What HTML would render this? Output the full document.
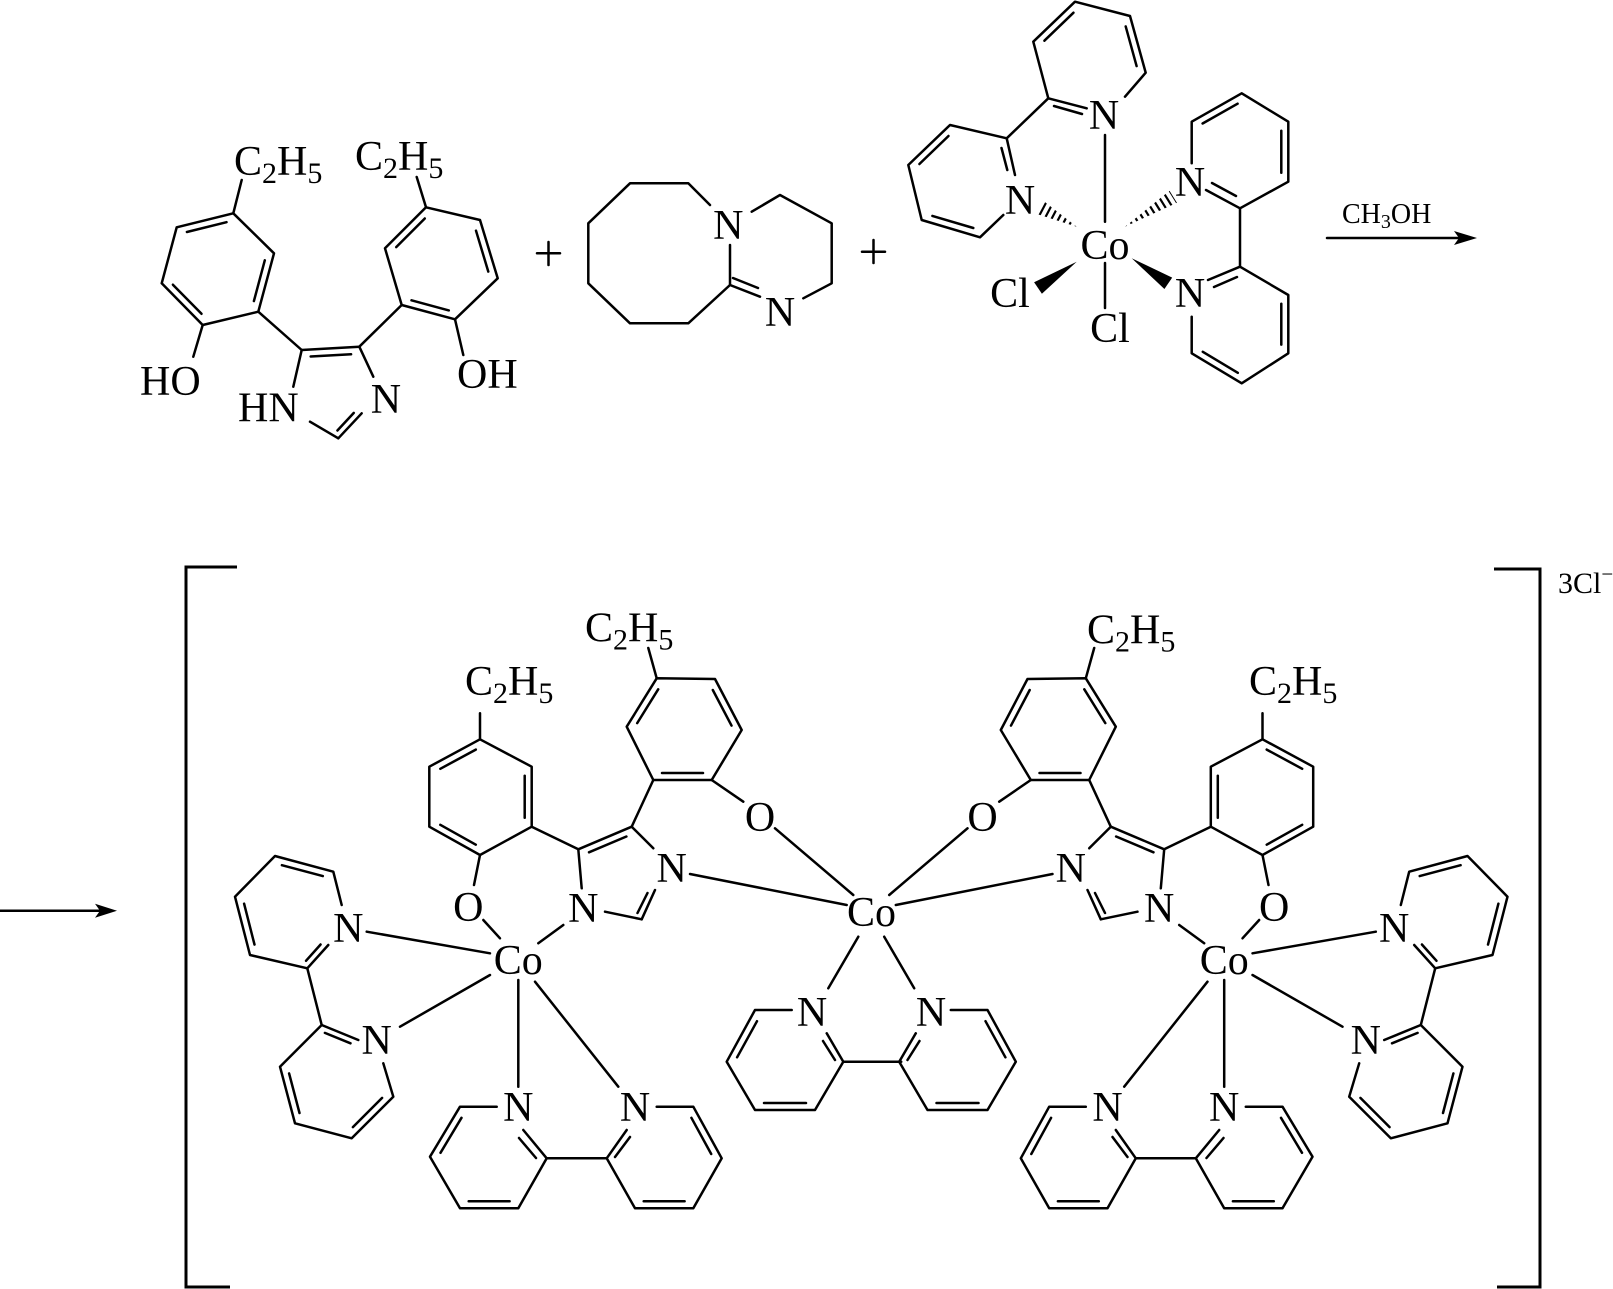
<!DOCTYPE html>
<html><head><meta charset="utf-8"><style>
html,body{margin:0;padding:0;background:#fff;}
svg{display:block;}
text{font-family:"Liberation Serif",serif;fill:#000;}
</style></head><body>
<svg width="1613" height="1289" viewBox="0 0 1613 1289" xmlns="http://www.w3.org/2000/svg">
<defs>
<clipPath id="w1"><polygon points="1076.7,226.7 1045,202.1 1038.4,214.5"/></clipPath>
<clipPath id="w2"><polygon points="1125,226.7 1177,202.7 1169.6,190.7"/></clipPath>
</defs>
<g stroke="#000" stroke-width="2.5" fill="none" stroke-linecap="round" stroke-linejoin="round">
<polyline points="233.3,213.3 274,253.3 258.3,311.7 202.7,325 161.7,283.3 176.7,227.3 233.3,213.3"/>
<line x1="186.9" y1="232" x2="226.5" y2="222.2"/><line x1="264.8" y1="260.3" x2="253.9" y2="301.1"/><line x1="201.5" y1="313.8" x2="172.9" y2="284.7"/>
<line x1="233.3" y1="213.3" x2="241.7" y2="180"/>
<line x1="202.7" y1="325" x2="193.3" y2="356.7"/>
<line x1="258.3" y1="311.7" x2="301.7" y2="350"/>
<line x1="301.7" y1="350" x2="359.3" y2="346.7"/><line x1="310.7" y1="356.5" x2="351.1" y2="354.2"/>
<line x1="359.3" y1="346.7" x2="373.3" y2="376.7"/>
<line x1="301.7" y1="350" x2="293.3" y2="386.7"/>
<line x1="310" y1="421.7" x2="338.3" y2="438.3"/>
<line x1="338.3" y1="438.3" x2="361.7" y2="413.3"/><line x1="337.4" y1="430.5" x2="353.8" y2="412.9"/>
<line x1="359.3" y1="346.7" x2="401.7" y2="305"/>
<polyline points="401.7,305 455,319.3 497.7,278.3 480,220 426,207.3 385,248.3 401.7,305"/>
<line x1="396.2" y1="247.1" x2="424.8" y2="218.5"/><line x1="476" y1="230.7" x2="488.3" y2="271.6"/><line x1="411.5" y1="300.3" x2="448.8" y2="310.4"/>
<line x1="426" y1="207.3" x2="416.7" y2="177"/>
<line x1="455" y1="319.3" x2="463.3" y2="355"/>
<line x1="537" y1="253.3" x2="560" y2="253.3"/><line x1="548.5" y1="242" x2="548.5" y2="265"/>
<line x1="862" y1="251.7" x2="885" y2="251.7"/><line x1="873.5" y1="240" x2="873.5" y2="263"/>
<polyline points="710,205 688.3,183.3 630,183.3 588.3,223.3 588.3,283.3 630,323.3 688.3,323.3 730,285 730,245"/>
<line x1="730" y1="285" x2="760" y2="296.7"/><line x1="733" y1="278" x2="758" y2="288"/>
<polyline points="803.3,298.3 831.7,283.3 831.7,223.3 780,195 751.7,211.7"/>
<polyline points="1125,96.7 1145.7,72.7 1130,16 1075,1.7 1033.3,41.7 1048.3,98.3 1086.7,108.3"/>
<line x1="1044.4" y1="40.7" x2="1073.5" y2="12.7"/><line x1="1125.7" y1="26.4" x2="1136.6" y2="66.1"/><line x1="1054" y1="106" x2="1082" y2="114"/>
<line x1="1048.3" y1="98.3" x2="1006.7" y2="138.3"/>
<polyline points="1015,175 1006.7,138.3 950,125 908.3,165 921.7,220 980,237.3 1003.3,215"/>
<line x1="948.5" y1="136" x2="919.4" y2="164"/><line x1="932.4" y1="215.9" x2="973.3" y2="228"/><line x1="1001.5" y1="148" x2="1007.3" y2="170"/>
<line x1="1105" y1="135" x2="1105" y2="221.7"/>
<line x1="1105" y1="263" x2="1105" y2="308"/>
<polyline points="1191.7,163.3 1191.7,121.7 1241.7,93.3 1288.3,121.7 1288.3,181.7 1240,208.3 1206,190"/>
<line x1="1202.6" y1="123.5" x2="1237.6" y2="103.7"/><line x1="1281.3" y1="130.7" x2="1281.3" y2="172.7"/><line x1="1212" y1="183" x2="1236" y2="196"/>
<line x1="1240" y1="208.3" x2="1240" y2="266.7"/>
<polyline points="1208,280 1240,266.7 1288.3,295 1288.3,353.3 1241.7,383.3 1191.7,353.3 1191.7,316.7"/>
<line x1="1281.3" y1="303.7" x2="1281.3" y2="344.6"/><line x1="1237.8" y1="372.8" x2="1202.8" y2="351.8"/><line x1="1214" y1="287" x2="1237" y2="277"/>
<line x1="1327" y1="238" x2="1462" y2="238"/>
<line x1="0" y1="910.7" x2="102" y2="910.7"/>
<polyline points="237,567 186,567 186,1287 230,1287" stroke-width="3" stroke-linecap="butt" stroke-linejoin="miter"/>
<polyline points="1494,569 1540,569 1540,1287 1497,1287" stroke-width="3" stroke-linecap="butt" stroke-linejoin="miter"/>
<line x1="843.3" y1="1061.7" x2="901.2" y2="1061.7"/>
<g id="half">
<polyline points="480,739.3 531.7,766.7 531.7,826.7 480,855 429.3,826.7 429.3,766.7 480,739.3"/>
<line x1="440.3" y1="768.8" x2="475.8" y2="749.6"/><line x1="524.7" y1="775.7" x2="524.7" y2="817.7"/><line x1="440.3" y1="824.8" x2="475.8" y2="844.7"/>
<line x1="480" y1="739.3" x2="480" y2="713.3"/>
<line x1="480" y1="855" x2="474" y2="885"/>
<line x1="531.7" y1="826.7" x2="578.3" y2="849.3"/>
<line x1="578.3" y1="849.3" x2="631.7" y2="826.7"/><line x1="589" y1="852.3" x2="626.4" y2="836.5"/>
<line x1="578.3" y1="849.3" x2="581.7" y2="888.3"/>
<line x1="605" y1="911.7" x2="641.7" y2="919.3"/>
<line x1="641.7" y1="919.3" x2="655" y2="890"/><line x1="637.5" y1="913" x2="647.5" y2="893"/>
<line x1="631.7" y1="826.7" x2="653.3" y2="848.3"/>
<line x1="631.7" y1="826.7" x2="653.3" y2="780"/>
<polyline points="656.7,678.3 715,679 741.7,730 711.7,780 653.3,780 626.7,726.7 656.7,678.3"/>
<line x1="637.2" y1="723.1" x2="658.2" y2="689.3"/><line x1="712.8" y1="690" x2="731.5" y2="725.6"/><line x1="662" y1="773" x2="703" y2="773"/>
<line x1="656.7" y1="678.3" x2="648.3" y2="648"/>
<line x1="711.7" y1="780" x2="743.3" y2="801.7"/>
<line x1="775" y1="828.3" x2="853.3" y2="895"/>
<line x1="690" y1="874" x2="846.7" y2="905"/>
<line x1="500" y1="938.3" x2="483.3" y2="920"/>
<line x1="538.3" y1="943.3" x2="563.3" y2="925"/>
<line x1="490" y1="953.3" x2="366.7" y2="931.7"/>
<line x1="490" y1="975" x2="400" y2="1026.7"/>
<line x1="518.3" y1="980" x2="518.3" y2="1086.7"/>
<line x1="535" y1="981.7" x2="618.3" y2="1086.7"/>
<polyline points="341.7,905 333.3,871.7 275,856 235,896.7 250,955 307.3,968.3 328.3,945"/>
<line x1="281.9" y1="865.2" x2="322.8" y2="876.1"/><line x1="244.1" y1="903.7" x2="254.5" y2="944.6"/><line x1="306" y1="960.8" x2="320.6" y2="944.5"/>
<line x1="307.3" y1="968.3" x2="321.7" y2="1025"/>
<polyline points="358.3,1040 321.7,1025 280,1066.7 295,1123.3 351.7,1138.3 393.3,1096.7 383.3,1063.3"/>
<line x1="324.9" y1="1032.9" x2="350.5" y2="1043.3"/><line x1="289.1" y1="1073.4" x2="299.5" y2="1113"/><line x1="382.1" y1="1097.9" x2="352.9" y2="1127.1"/>
<polyline points="496.7,1106.7 460,1106.7 430,1156.7 460,1208.3 518.3,1208.3 546.7,1158.3 523.3,1130"/>
<line x1="461.5" y1="1117.8" x2="440.5" y2="1152.8"/><line x1="468.7" y1="1201.3" x2="509.6" y2="1201.3"/><line x1="519" y1="1138" x2="536" y2="1158"/>
<line x1="546.7" y1="1158.3" x2="606.7" y2="1158.3"/>
<polyline points="626.7,1130 606.7,1158.3 635,1208.3 693.3,1208.3 721.7,1158.3 693.3,1106.7 656.7,1106.7"/>
<line x1="615" y1="1157" x2="630" y2="1137"/><line x1="691.4" y1="1117.8" x2="711.2" y2="1154"/><line x1="643.7" y1="1201.3" x2="684.6" y2="1201.3"/>
<polyline points="791.7,1010 755,1010 726.7,1061.7 755,1110 815,1110 843.3,1061.7 826.7,1033.3"/>
<line x1="757" y1="1021.2" x2="737.1" y2="1057.3"/><line x1="764" y1="1103" x2="806" y2="1103"/><line x1="823" y1="1041" x2="835" y2="1060"/>
<line x1="858.3" y1="936.7" x2="828.3" y2="988.3"/>
</g>
<use href="#half" transform="translate(1742.5,0) scale(-1,1)"/>
</g>
<line x1="1076.7" y1="226.7" x2="1041.7" y2="208.3" stroke="#000" stroke-width="20" stroke-dasharray="2.2 4" clip-path="url(#w1)"/>
<line x1="1125" y1="226.7" x2="1173.3" y2="196.7" stroke="#000" stroke-width="20" stroke-dasharray="2.2 4" clip-path="url(#w2)"/>
<polygon points="1076.7,261.7 1041.9,293.8 1034.1,282.2" fill="#000"/>
<polygon points="1131.7,258.3 1164.4,289 1172.2,277.6" fill="#000"/>
<polygon points="1477,238 1454,231 1459,238 1454,245" fill="#000"/>
<polygon points="117,910.7 95,903.7 100,910.7 95,917.7" fill="#000"/>
<g font-size="42">
<text x="234" y="175">C<tspan font-size="30" dy="8">2</tspan><tspan dy="-8">H</tspan><tspan font-size="30" dy="8">5</tspan></text>
<text x="355" y="170">C<tspan font-size="30" dy="8">2</tspan><tspan dy="-8">H</tspan><tspan font-size="30" dy="8">5</tspan></text>
<text x="140" y="395">HO</text>
<text x="457" y="388">OH</text>
<text x="238" y="421.7">HN</text>
<text x="370.7" y="413">N</text>
</g>
<g font-size="42" text-anchor="middle">
<text x="728.3" y="239">N</text>
<text x="780" y="326">N</text>
<text x="1104" y="129">N</text>
<text x="1020" y="214">N</text>
<text x="1105" y="259">Co</text>
<text x="1110" y="342">Cl</text>
<text x="1010" y="307">Cl</text>
<text x="1190" y="196">N</text>
<text x="1190" y="307">N</text>
<text x="468.3" y="921">O</text>
<text x="1274.2" y="921">O</text>
<text x="760" y="831">O</text>
<text x="982.5" y="831">O</text>
<text x="583.3" y="922">N</text>
<text x="1159.2" y="922">N</text>
<text x="671.7" y="882">N</text>
<text x="1070.8" y="882">N</text>
<text x="518.3" y="974">Co</text>
<text x="1224.2" y="974">Co</text>
<text x="871.5" y="926">Co</text>
<text x="348.3" y="942">N</text>
<text x="1394.2" y="942">N</text>
<text x="376.7" y="1054">N</text>
<text x="1365.8" y="1054">N</text>
<text x="518.3" y="1121">N</text>
<text x="1224.2" y="1121">N</text>
<text x="635" y="1121">N</text>
<text x="1107.5" y="1121">N</text>
<text x="812" y="1026">N</text>
<text x="931" y="1026">N</text>
</g>
<g font-size="42">
<text x="465" y="695">C<tspan font-size="30" dy="8">2</tspan><tspan dy="-8">H</tspan><tspan font-size="30" dy="8">5</tspan></text>
<text x="585" y="641.7">C<tspan font-size="30" dy="8">2</tspan><tspan dy="-8">H</tspan><tspan font-size="30" dy="8">5</tspan></text>
<text x="1087" y="643.3">C<tspan font-size="30" dy="8">2</tspan><tspan dy="-8">H</tspan><tspan font-size="30" dy="8">5</tspan></text>
<text x="1249" y="695">C<tspan font-size="30" dy="8">2</tspan><tspan dy="-8">H</tspan><tspan font-size="30" dy="8">5</tspan></text>
</g>
<text x="1342" y="223" font-size="28">CH<tspan font-size="20" dy="5">3</tspan><tspan dy="-5">OH</tspan></text>
<text x="1558" y="593" font-size="30">3Cl<tspan font-size="21" dy="-12">−</tspan></text>
</svg>
</body></html>
